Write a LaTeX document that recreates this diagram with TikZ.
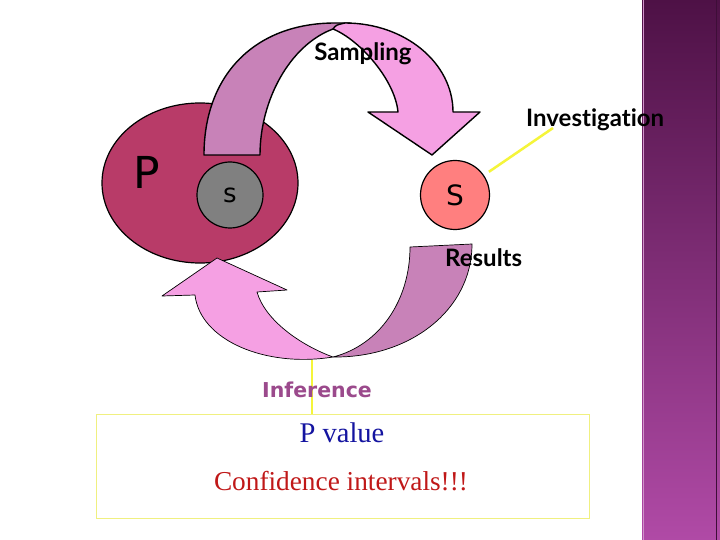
\documentclass[tikz,border=0pt]{standalone}
\usepackage{fontspec}
\setmainfont{Liberation Serif}
\newfontfamily\labfont{DejaVu Sans}
\newfontfamily\latofont{Lato}[Ligatures=NoCommon]
\definecolor{barTop}{HTML}{4E1146}
\definecolor{barBot}{HTML}{B04AA6}
\definecolor{Pcol}{HTML}{B83B68}
\definecolor{mauve}{HTML}{C882B8}
\definecolor{pinkA}{HTML}{F5A0E3}
\definecolor{grayS}{HTML}{808080}
\definecolor{salmon}{HTML}{FF7F7F}
\definecolor{yel}{HTML}{F5F53A}
\definecolor{boxyel}{HTML}{F0F080}
\definecolor{infcol}{HTML}{9B4A8C}
\definecolor{pblue}{HTML}{1414A0}
\definecolor{cred}{HTML}{C01818}
\begin{document}
\begin{tikzpicture}[x=1pt,y=-1pt,
  lab/.style={font=\latofont\bfseries\fontsize{24}{26}\selectfont, inner sep=0pt},
  bandA/.style={draw=black, line width=1.4pt, line join=round},
  bandB/.style={draw=black, line width=0.7pt, line join=round},
  circ/.style={circle, draw=black, line width=1.2pt, inner sep=0pt},
  yline/.style={draw=yel, line width=2.5pt},
]
\useasboundingbox (0,0) rectangle (720,540);
\fill[white] (0,0) rectangle (720,540);
% side bar
\shade[top color=barTop, bottom color=barBot] (642,0) rectangle (720,540);
\draw[barBot!60!white, line width=0.6pt] (643,0) -- (643,540);
\draw[barTop!80!black, line width=0.8pt] (716,0) -- (716,540);
% population ellipse
\draw[fill=Pcol, line width=1.2pt] (200,183) ellipse [x radius=98, y radius=80];
\node[font=\labfont\fontsize{44}{44}\selectfont, inner sep=0pt] (P) at (147,172) {P};
\node[circ, fill=grayS, minimum size=66pt, font=\labfont\fontsize{26}{26}\selectfont] (s1) at (230,195) {s};
% sampling arrow
\filldraw[bandA, fill=mauve] (204,155) -- (260,155) .. controls (260,100) and (290,45) .. (333,29)
  -- (350,23) -- (335,23) .. controls (255,23) and (204,75) .. (204,155) -- cycle;
\filldraw[bandA, fill=pinkA] (333,29) .. controls (336,25) .. (345,23)
  .. controls (405,23) and (453,63) .. (453,112) -- (480,112) -- (432,155) -- (368,112) -- (398,112)
  .. controls (395,80) and (360,40) .. (333,29) -- cycle;
\node[lab] (samp) at (363,54) {Sampling};
% sample circle
\node[circ, fill=salmon, minimum size=69pt, font=\labfont\fontsize{28}{28}\selectfont] (s2) at (455,195) {S};
\node[lab, anchor=west] (inv) at (526,120) {Investigation};
\coordinate (invEnd) at (553,128);
\draw[yline, shorten >=6pt] (invEnd) -- (s2);
% inference arrow
\filldraw[bandB, fill=mauve] (410,247) -- (472,244) .. controls (472,310) and (410,358) .. (333,357)
  .. controls (380,345) and (410,300) .. (410,247) -- cycle;
\filldraw[bandB, fill=pinkA] (333,357) .. controls (265,368) and (200,340) .. (195,295)
  -- (162,296) -- (217,258) -- (287,290) -- (257,292)
  .. controls (265,320) and (300,345) .. (333,357) -- cycle;
\node[lab, anchor=west] (res) at (445,258) {Results};
% box
\node[draw=boxyel, line width=1pt, fill=white, minimum width=493pt, minimum height=104pt, anchor=north west, inner sep=0pt] (box) at (96,414) {};
\coordinate (infTop) at (312,360);
\draw[yline, line width=2pt] (infTop) -- (infTop |- box.north);
\node[font=\labfont\bfseries\fontsize{20.5}{22}\selectfont, inner sep=0pt, text=infcol] (inf) at (317,390) {Inference};
\node[text=pblue, font=\fontsize{28.5}{28}\selectfont, inner sep=0pt] (pv) at (342,433) {P value};
\node[text=cred, font=\fontsize{27.3}{27}\selectfont, inner sep=0pt] (ci) at (341,481) {Confidence intervals!!!};
\end{tikzpicture}
\end{document}
